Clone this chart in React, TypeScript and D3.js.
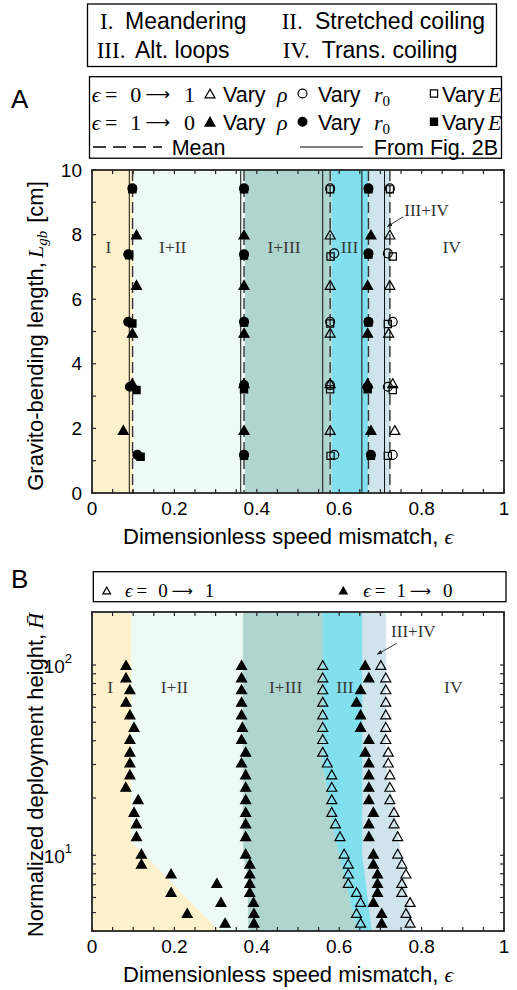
import React from "react";
import * as d3 from "d3";

const SANS = "'Liberation Sans', Arial, Helvetica, sans-serif";
const SERIF = "'Liberation Serif', 'Times New Roman', 'DejaVu Serif', serif";
const INK = "#262626";

// top legend: regime names
const modeNumerals = ["I.", "II.", "III.", "IV."];
const modeNames = ["Meandering", "Stretched coiling", "Alt. loops", "Trans. coiling"];

// regime shading
const regimeColors = ["#fef2cd", "#eefaf6", "#b0d5ce", "#82dfee", "#d0e5eb", "#ffffff"];
const regimeLabels = ["I", "I+II", "I+III", "III", "IV"];

// ---------------- Panel A ----------------
const edgesA = [0, 0.1, 0.371, 0.582, 0.671, 0.725, 1];
const meanA = [0.0985, 0.369, 0.578, 0.671, 0.723];
const fig2bA = [0.0905, 0.361, 0.56, 0.655, 0.71];
const labelEpsA = [0.04, 0.196, 0.466, 0.625, 0.873];
const labelLgbA = 7.55;

type Pt = [number, number];
// eps = 1 -> 0 (filled)
const fillTriA: Pt[] = [
  [0.108, 8.0], [0.108, 6.44], [0.098, 4.96], [0.098, 3.4], [0.076, 1.95],
  [0.369, 8.0], [0.369, 6.44], [0.369, 4.96], [0.369, 3.4], [0.369, 1.95],
  [0.677, 8.0], [0.669, 6.44], [0.669, 4.96], [0.669, 3.4], [0.677, 1.95],
];
const fillCircA: Pt[] = [
  [0.098, 9.43], [0.088, 7.39], [0.088, 5.3], [0.092, 3.29], [0.11, 1.18],
  [0.369, 9.43], [0.369, 7.39], [0.369, 5.3], [0.369, 3.34], [0.369, 1.18],
  [0.671, 9.43], [0.671, 7.42], [0.671, 5.3], [0.669, 3.29], [0.677, 1.18],
];
const fillSqA: Pt[] = [
  [0.098, 9.4], [0.09, 7.36], [0.098, 5.25], [0.108, 3.19], [0.118, 1.12],
  [0.369, 9.4], [0.369, 7.35], [0.369, 5.28], [0.369, 3.21], [0.369, 1.15],
  [0.671, 9.4], [0.671, 7.38], [0.671, 5.28], [0.669, 3.21], [0.677, 1.15],
];
// eps = 0 -> 1 (open)
const openTriA: Pt[] = [
  [0.578, 8.0], [0.578, 6.44], [0.578, 4.96], [0.578, 3.4], [0.578, 1.95],
  [0.723, 8.0], [0.723, 6.44], [0.72, 4.96], [0.73, 3.4], [0.735, 1.95],
];
const openCircA: Pt[] = [
  [0.578, 9.43], [0.588, 7.42], [0.578, 5.3], [0.578, 3.34], [0.588, 1.18],
  [0.723, 9.43], [0.718, 7.42], [0.73, 5.3], [0.718, 3.29], [0.73, 1.18],
];
const openSqA: Pt[] = [
  [0.578, 9.4], [0.579, 7.32], [0.578, 5.25], [0.578, 3.21], [0.579, 1.15],
  [0.723, 9.4], [0.73, 7.32], [0.718, 5.23], [0.73, 3.19], [0.718, 1.15],
];
const annotA = { text: [0.812, 8.71], from: [0.755, 8.55], to: [0.717, 8.25] };

// ---------------- Panel B ----------------
const hLevels = [100, 86.1, 74.5, 64.1, 55.0, 47.3, 40.8, 35.0, 30.7, 26.6, 22.9, 19.7,
  16.9, 14.7, 12.6, 10.2, 9.04, 8.01, 7.15, 6.41, 5.68, 4.97, 4.42];
const fillB1 = [0.0825, 0.0825, 0.092, 0.0825, 0.092, 0.102, 0.092, 0.092, 0.092, 0.092, 0.082, 0.112,
  0.102, 0.108, 0.108, 0.12, 0.12, 0.192, 0.303, 0.192, 0.313, 0.231, 0.323];
const fillB2 = [0.363, 0.363, 0.363, 0.363, 0.363, 0.365, 0.363, 0.373, 0.363, 0.373, 0.373, 0.373,
  0.373, 0.373, 0.373, 0.373, 0.383, 0.383, 0.383, 0.383, 0.392, 0.393, 0.393];
const openB3 = [0.56, 0.56, 0.56, 0.56, 0.56, 0.56, 0.56, 0.56, 0.571, 0.582, 0.582, 0.582,
  0.582, 0.591, 0.602, 0.612, 0.622, 0.622, 0.622, 0.642, 0.652, 0.642, 0.652];
const fillB4 = [0.663, 0.672, 0.652, 0.642, 0.652, 0.652, 0.672, 0.663, 0.672, 0.672, 0.672, 0.672,
  0.683, 0.672, 0.672, 0.683, 0.683, 0.693, 0.693, 0.693, 0.683, 0.703, 0.703];
const openB5 = [0.701, 0.713, 0.713, 0.713, 0.713, 0.713, 0.713, 0.719, 0.719, 0.723, 0.723, 0.723,
  0.733, 0.733, 0.742, 0.742, 0.752, 0.762, 0.752, 0.752, 0.772, 0.762, 0.772];

// regime boundaries as [H, eps], top to bottom
const boundsB: Pt[][] = [
  [[190, 0], [4, 0]],
  [[190, 0.096], [11.8, 0.096], [4, 0.31]],
  [[190, 0.367], [10, 0.367], [8, 0.378], [4, 0.38]],
  [[190, 0.561], [30, 0.561], [12.6, 0.59], [4, 0.645]],
  [[190, 0.657], [10, 0.657], [4, 0.68]],
  [[190, 0.714], [30, 0.714], [16.9, 0.735], [9, 0.755], [4, 0.78]],
  [[190, 1], [4, 1]],
];
const labelEpsB = [0.044, 0.2, 0.47, 0.614, 0.877];
const labelHB = 75;
const annotB = { text: [0.78, 147], from: [0.74, 130], to: [0.6925, 114] };

// ---------------- helpers ----------------
const triUp: d3.SymbolType = {
  draw(ctx, size) {
    const w = Math.sqrt(size);
    const h = w * 0.88;
    ctx.moveTo(0, -h / 2);
    ctx.lineTo(w / 2, h / 2);
    ctx.lineTo(-w / 2, h / 2);
    ctx.closePath();
  },
};
const shapeType: Record<string, d3.SymbolType> = { tri: triUp, circ: d3.symbolCircle, sq: d3.symbolSquare };
const shapeSize: Record<string, number> = { tri: 100, circ: 62, sq: 52 };

function Mark({ x, y, shape, filled, k = 1 }: { x: number; y: number; shape: string; filled: boolean; k?: number }) {
  const d = d3.symbol().type(shapeType[shape]).size(shapeSize[shape] * k)() as string;
  return (
    <path d={d} transform={`translate(${x},${y})`} fill={filled ? "#000" : "none"}
      stroke="#000" strokeWidth={1.2} />
  );
}

// "ϵ = a → b" with TeX-like spacing
function EpsArrow({ x, y, size, a, b }: { x: number; y: number; size: number; a: string; b: string }) {
  return (
    <g fill="#000">
      <text x={x} y={y} fontFamily={SERIF} fontStyle="italic" fontSize={size}>ϵ</text>
      <text x={x + 0.6 * size} y={y} fontFamily={SERIF} fontSize={size}>=</text>
      <text x={x + 1.75 * size} y={y} fontFamily={SERIF} fontSize={size}>{a}</text>
      <text x={x + 2.45 * size} y={y - 0.05 * size} fontFamily="'DejaVu Sans', sans-serif"
        fontSize={size * 0.78}>⟶</text>
      <text x={x + 4.2 * size} y={y} fontFamily={SERIF} fontSize={size}>{b}</text>
    </g>
  );
}

const fmt = d3.format("~g");

function Frame({ x, y, box, xMinor, xMajor, yMinor }: any) {
  const t = 4;
  return (
    <g stroke={INK} strokeWidth={1.2}>
      {xMinor.map((v: number, i: number) => (
        <g key={"x" + i}>
          <line x1={x(v)} x2={x(v)} y1={box.bottom} y2={box.bottom - t} />
          <line x1={x(v)} x2={x(v)} y1={box.top} y2={box.top + t} />
        </g>
      ))}
      {yMinor.map((v: number, i: number) => (
        <g key={"y" + i}>
          <line x1={box.left} x2={box.left + t} y1={y(v)} y2={y(v)} />
          <line x1={box.right} x2={box.right - t} y1={y(v)} y2={y(v)} />
        </g>
      ))}
      <rect x={box.left} y={box.top} width={box.right - box.left} height={box.bottom - box.top}
        fill="none" strokeWidth={1.8} />
      {xMajor.map((v: number, i: number) => (
        <text key={"xl" + i} x={x(v)} y={box.bottom + 22} textAnchor="middle" stroke="none"
          fill="#000" fontFamily={SANS} fontSize={19}>{fmt(v)}</text>
      ))}
    </g>
  );
}

function XLabel({ y }: { y: number }) {
  return (
    <text x={123} y={y} fontFamily={SANS} fontSize={22} fill="#000">
      Dimensionless speed mismatch,
      <tspan fontFamily={SERIF} fontStyle="italic" dx={6}>ϵ</tspan>
    </text>
  );
}

export default function App() {
  const bA = { left: 92, right: 504, top: 170, bottom: 493 };
  const bB = { left: 92, right: 504, top: 612, bottom: 931 };

  const xA = d3.scaleLinear().domain([0, 1]).range([bA.left, bA.right]);
  const yA = d3.scaleLinear().domain([0, 10]).range([bA.bottom, bA.top]);
  const xB = d3.scaleLinear().domain([0, 1]).range([bB.left, bB.right]);
  const yB = d3.scaleLog().domain([4, 190]).range([bB.bottom, bB.top]);

  const seriesA = [
    { pts: openTriA, shape: "tri", filled: false },
    { pts: openCircA, shape: "circ", filled: false },
    { pts: openSqA, shape: "sq", filled: false },
    { pts: fillTriA, shape: "tri", filled: true },
    { pts: fillCircA, shape: "circ", filled: true },
    { pts: fillSqA, shape: "sq", filled: true },
  ];
  const seriesB = [
    { vals: fillB1, filled: true },
    { vals: fillB2, filled: true },
    { vals: openB3, filled: false },
    { vals: fillB4, filled: true },
    { vals: openB5, filled: false },
  ];

  const lineB = d3.line<Pt>().x((p) => xB(p[1])).y((p) => yB(p[0]));
  const regionPaths = boundsB.slice(0, -1).map((left, i) => {
    const right = boundsB[i + 1].slice().reverse();
    return lineB([...left, ...right]) + "Z";
  });

  const logMajor = yB.ticks().filter((v) => Math.abs(Math.log10(v) - Math.round(Math.log10(v))) < 1e-9);

  return (
    <svg width={517} height={990} style={{ display: "block", position: "absolute", left: 0, top: 0 }}>
      <defs>
        <marker id="arr" viewBox="0 0 10 10" refX="9" refY="5" markerWidth="6" markerHeight="6" orient="auto">
          <path d="M0,1 L10,5 L0,9 Z" fill="#222" />
        </marker>
      </defs>
      <rect width={517} height={990} fill="#fff" />

      {/* top legend */}
      <rect x={87.5} y={4} width={409} height={62.5} fill="#fff" stroke="#000" strokeWidth={1.3} />
      {modeNumerals.map((n, i) => {
        const col = i % 2, row = Math.floor(i / 2);
        const nx = [[100, 281.7], [96.7, 282.7]][row][col];
        const wx = [[125, 315], [135, 321.7]][row][col];
        const by = row === 0 ? 29 : 58;
        return (
          <g key={i}>
            <text x={nx} y={by} fontFamily={SERIF} fontSize={23}>{n}</text>
            <text x={wx} y={by} fontFamily={SANS} fontSize={23}>{modeNames[i]}</text>
          </g>
        );
      })}

      {/* panel A legend */}
      <rect x={89.5} y={76.7} width={412} height={81.5} fill="#fff" stroke="#000" strokeWidth={1.3} />
      {[false, true].map((filled, r) => {
        const my = r === 0 ? 93.5 : 121.7;
        const ty = r === 0 ? 101.5 : 129.5;
        return (
          <g key={r}>
            <EpsArrow x={91.7} y={ty} size={22} a={r === 0 ? "0" : "1"} b={r === 0 ? "1" : "0"} />
            <Mark x={210} y={my} shape="tri" filled={filled} />
            <text x={223} y={ty} fontFamily={SANS} fontSize={21.5}>Vary</text>
            <text x={277} y={ty} fontFamily={SERIF} fontStyle="italic" fontSize={22}>ρ</text>
            <Mark x={302.5} y={my} shape="circ" filled={filled} />
            <text x={318} y={ty} fontFamily={SANS} fontSize={21.5}>Vary</text>
            <text x={374} y={ty} fontFamily={SERIF} fontStyle="italic" fontSize={22}>
              r<tspan fontSize={15} dy={4} fontStyle="normal">0</tspan>
            </text>
            <Mark x={434} y={my} shape="sq" filled={filled} />
            <text x={442} y={ty} fontFamily={SANS} fontSize={21.5}>Vary</text>
            <text x={488} y={ty} fontFamily={SERIF} fontStyle="italic" fontSize={22}>E</text>
          </g>
        );
      })}
      <line x1={93} x2={162} y1={147} y2={147} stroke="#000" strokeWidth={1.3} strokeDasharray="13,7" />
      <text x={171.7} y={155} fontFamily={SANS} fontSize={21.5}>Mean</text>
      <line x1={300} x2={363} y1={147} y2={147} stroke="#000" strokeWidth={1} />
      <text x={498} y={155} textAnchor="end" fontFamily={SANS} fontSize={21.5}>From Fig. 2B</text>

      {/* panel letters */}
      <text x={11} y={108} fontFamily={SANS} fontSize={26}>A</text>
      <text x={11} y={588} fontFamily={SANS} fontSize={26}>B</text>

      {/* ---------- Panel A ---------- */}
      <g>
        {regimeColors.map((c, i) => (
          <rect key={i} x={xA(edgesA[i])} y={bA.top} width={xA(edgesA[i + 1]) - xA(edgesA[i])}
            height={bA.bottom - bA.top} fill={c} />
        ))}
        {fig2bA.map((v, i) => (
          <line key={"s" + i} x1={xA(v)} x2={xA(v)} y1={bA.top} y2={bA.bottom} stroke="#111" strokeWidth={1} />
        ))}
        {meanA.map((v, i) => (
          <line key={"m" + i} x1={xA(v)} x2={xA(v)} y1={bA.top} y2={bA.bottom} stroke="#333"
            strokeWidth={1.4} strokeDasharray="11,5" />
        ))}
        {seriesA.map((s, si) =>
          s.pts.map((p, i) => (
            <Mark key={si + "-" + i} x={xA(p[0])} y={yA(p[1])} shape={s.shape} filled={s.filled} />
          ))
        )}
        {regimeLabels.map((l, i) => (
          <text key={l} x={xA(labelEpsA[i])} y={yA(labelLgbA)} textAnchor="middle" dominantBaseline="middle"
            fontFamily={SERIF} fontSize={17.5} fill="#3a3a3a">{l}</text>
        ))}
        <text x={xA(annotA.text[0])} y={yA(annotA.text[1])} textAnchor="middle" dominantBaseline="middle"
          fontFamily={SERIF} fontSize={17} fill="#333">III+IV</text>
        <line x1={xA(annotA.from[0])} y1={yA(annotA.from[1])} x2={xA(annotA.to[0])} y2={yA(annotA.to[1])}
          stroke="#222" strokeWidth={0.9} markerEnd="url(#arr)" />
        <Frame x={xA} y={yA} box={bA} xMinor={xA.ticks(20)} xMajor={xA.ticks(5)} yMinor={yA.ticks(10)} />
        {yA.ticks(5).map((v) => (
          <text key={v} x={bA.left - 10} y={yA(v)} textAnchor="end" dominantBaseline="central"
            fontFamily={SANS} fontSize={19}>{fmt(v)}</text>
        ))}
        <XLabel y={543.7} />
        <text transform={`translate(43,336) rotate(-90)`} textAnchor="middle" fontFamily={SANS} fontSize={22}>
          Gravito-bending length,
          <tspan fontFamily={SERIF} fontStyle="italic" dx={4}>L</tspan>
          <tspan fontFamily={SERIF} fontStyle="italic" fontSize={15} dy={4}>gb</tspan>
          <tspan dy={-4} dx={8}>[cm]</tspan>
        </text>
      </g>

      {/* ---------- Panel B ---------- */}
      <rect x={93.3} y={571.7} width={412.7} height={30} fill="#fff" stroke="#000" strokeWidth={1.3} />
      <Mark x={106.7} y={590.5} shape="tri" filled={false} k={0.6} />
      <EpsArrow x={125} y={597} size={19} a="0" b="1" />
      <Mark x={343.3} y={590.5} shape="tri" filled={true} k={0.6} />
      <EpsArrow x={363.3} y={597} size={19} a="1" b="0" />
      <g>
        <clipPath id="clipB">
          <rect x={bB.left} y={bB.top} width={bB.right - bB.left} height={bB.bottom - bB.top} />
        </clipPath>
        <g clipPath="url(#clipB)">
          {regionPaths.map((d, i) => (
            <path key={i} d={d} fill={regimeColors[i]} stroke={regimeColors[i]} strokeWidth={0.5} />
          ))}
        </g>
        {seriesB.map((s, si) =>
          s.vals.map((v, i) => (
            <Mark key={si + "-" + i} x={xB(v)} y={yB(hLevels[i])} shape="tri" filled={s.filled} />
          ))
        )}
        {regimeLabels.map((l, i) => (
          <text key={l} x={xB(labelEpsB[i])} y={yB(labelHB)} textAnchor="middle" dominantBaseline="middle"
            fontFamily={SERIF} fontSize={17.5} fill="#3a3a3a">{l}</text>
        ))}
        <text x={xB(annotB.text[0])} y={yB(annotB.text[1])} textAnchor="middle" dominantBaseline="middle"
          fontFamily={SERIF} fontSize={17} fill="#333">III+IV</text>
        <line x1={xB(annotB.from[0])} y1={yB(annotB.from[1])} x2={xB(annotB.to[0])} y2={yB(annotB.to[1])}
          stroke="#222" strokeWidth={0.9} markerEnd="url(#arr)" />
        <Frame x={xB} y={yB} box={bB} xMinor={xB.ticks(20)} xMajor={xB.ticks(5)} yMinor={yB.ticks()} />
        {logMajor.map((v) => (
          <text key={v} x={bB.left - 20} y={yB(v) + 8} textAnchor="end" fontFamily={SANS} fontSize={19}>
            10
            <tspan fontSize={13} dy={-10}>{Math.round(Math.log10(v))}</tspan>
          </text>
        ))}
        <XLabel y={981.7} />
        <text transform={`translate(43,775) rotate(-90)`} textAnchor="middle" fontFamily={SANS} fontSize={22}>
          Normalized deployment height,
          <tspan fontFamily={SERIF} fontStyle="italic" dx={5}>{"H\u0304"}</tspan>
        </text>
      </g>
    </svg>
  );
}
